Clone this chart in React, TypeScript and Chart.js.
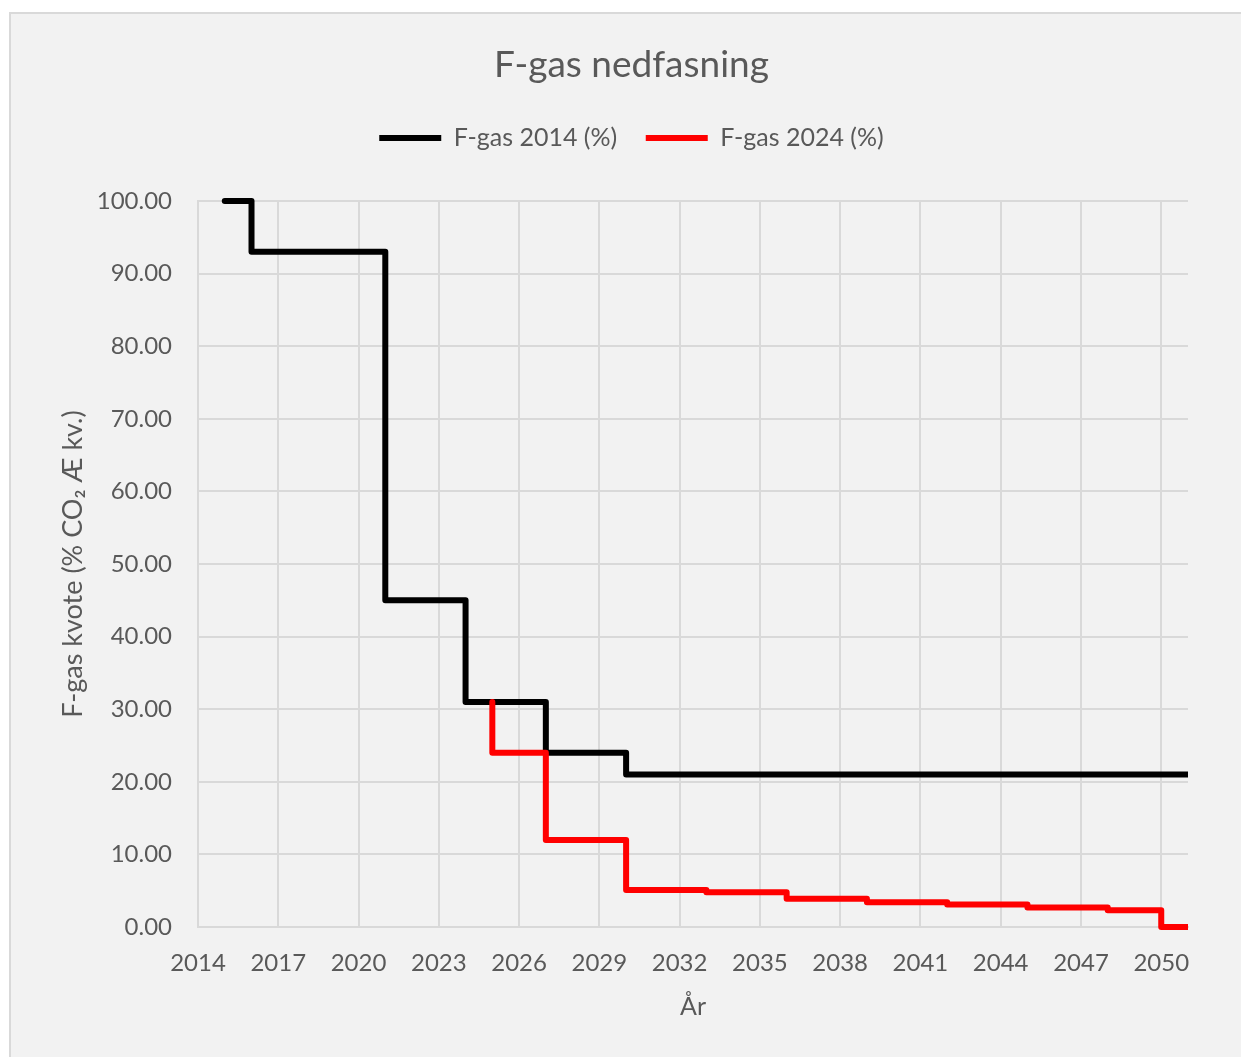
import React, { useEffect, useRef } from "react";
import { Chart, registerables } from "chart.js";

Chart.register(...registerables);

// ---- data ----
const chartTitle = "F-gas nedfasning";
const xAxisTitle = "År";
const yAxisTitle = "F-gas kvote (% CO₂ Æ kv.)";
const seriesLabels = ["F-gas 2014 (%)", "F-gas 2024 (%)"];

const xTickYears = [2014, 2017, 2020, 2023, 2026, 2029, 2032, 2035, 2038, 2041, 2044, 2047, 2050];
const yTickValues = [0, 10, 20, 30, 40, 50, 60, 70, 80, 90, 100];

const years2014 = [2015, 2016, 2021, 2024, 2027, 2030, 2051];
const quota2014 = [100, 93, 45, 31, 24, 21, 21];

const years2024 = [2025, 2025, 2027, 2030, 2033, 2036, 2039, 2042, 2045, 2048, 2050, 2051];
const quota2024 = [31, 24, 12, 5.1, 4.8, 3.9, 3.4, 3.1, 2.7, 2.3, 0, 0];

const FONT = 'Lato, "Open Sans", "Liberation Sans", sans-serif';
const TEXT = "#595959";
const GRID = "#d9d9d9";

const bgPlugin = {
  id: "bgPlugin",
  beforeDraw(chart: any) {
    const { ctx, width, height } = chart;
    ctx.save();
    ctx.fillStyle = "#ffffff";
    ctx.fillRect(0, 0, width, height);
    ctx.fillStyle = "#f2f2f2";
    ctx.fillRect(10, 13, width - 10, height - 13);
    ctx.strokeStyle = "#d9d9d9";
    ctx.lineWidth = 2;
    ctx.beginPath();
    ctx.moveTo(10, height);
    ctx.lineTo(10, 13);
    ctx.lineTo(width, 13);
    ctx.stroke();
    ctx.restore();
  },
};

export default function App() {
  const ref = useRef<HTMLCanvasElement | null>(null);

  useEffect(() => {
    if (!ref.current) return;
    const chart = new Chart(ref.current, {
      type: "line",
      data: {
        datasets: [
          {
            label: seriesLabels[0],
            data: years2014.map((x, i) => ({ x, y: quota2014[i] })),
            borderColor: "#000000",
            backgroundColor: "#000000",
            borderWidth: 6,
            stepped: "before",
            pointRadius: 0,
            borderCapStyle: "round",
            borderJoinStyle: "round",
            fill: false,
            clip: { left: 10, top: 10, right: 0, bottom: 10 },
            order: 1,
          },
          {
            label: seriesLabels[1],
            data: years2024.map((x, i) => ({ x, y: quota2024[i] })),
            borderColor: "#ff0000",
            backgroundColor: "#ff0000",
            borderWidth: 6,
            stepped: "before",
            pointRadius: 0,
            borderCapStyle: "round",
            borderJoinStyle: "round",
            fill: false,
            clip: { left: 10, top: 10, right: 0, bottom: 10 },
            order: 0,
          },
        ],
      },
      options: {
        responsive: false,
        animation: false,
        devicePixelRatio: 1,
        layout: { padding: { left: 22, right: 0, top: 0, bottom: 0 } },
        plugins: {
          tooltip: { enabled: false },
          title: {
            display: true,
            text: chartTitle,
            color: TEXT,
            font: { family: FONT, size: 37, weight: "normal", lineHeight: 1.2 },
            padding: { top: 42.8, bottom: 9.8 },
          },
          subtitle: {
            display: true,
            text: "",
            position: "top",
            weight: 500,
            font: { family: FONT, size: 1, lineHeight: 1 },
            padding: { top: 39.5, bottom: 0 },
          } as any,
          legend: {
            display: true,
            position: "top",
            labels: {
              usePointStyle: true,
              pointStyle: "line",
              pointStyleWidth: 62,
              color: TEXT,
              font: { family: FONT, size: 25 },
              padding: 28.5,
              sort: (a: any, b: any) => a.datasetIndex - b.datasetIndex,
            },
          },
        },
        scales: {
          x: {
            type: "linear",
            position: "bottom",
            min: 2014,
            max: 2051,
            afterBuildTicks: (scale: any) => {
              scale.ticks = xTickYears.map((value) => ({ value }));
            },
            afterFit: (scale: any) => {
              scale.height = 130;
            },
            ticks: {
              color: TEXT,
              font: { family: FONT, size: 24 },
              padding: 22,
              maxRotation: 0,
              autoSkip: false,
              callback: (v: any) => String(v),
            },
            grid: { color: GRID, lineWidth: 2, drawTicks: false },
            border: { display: true, color: GRID, width: 2 },
            title: {
              display: true,
              text: xAxisTitle,
              color: TEXT,
              font: { family: FONT, size: 25, lineHeight: 1.2 },
              padding: { top: 0, bottom: 35 },
            },
          },
          y: {
            type: "linear",
            position: "left",
            min: 0,
            max: 100,
            afterBuildTicks: (scale: any) => {
              scale.ticks = yTickValues.map((value) => ({ value }));
            },
            afterFit: (scale: any) => {
              scale.width = 176;
            },
            ticks: {
              color: TEXT,
              font: { family: FONT, size: 24 },
              padding: 26,
              callback: (v: any) => Number(v).toFixed(2),
            },
            grid: { color: GRID, lineWidth: 2, drawTicks: false },
            border: { display: true, color: GRID, width: 2 },
            title: {
              display: true,
              text: yAxisTitle,
              color: TEXT,
              font: { family: FONT, size: 27, lineHeight: 1.2 },
              padding: { top: 34.8, bottom: 0 },
            },
          },
          yRight: {
            type: "linear",
            position: "right",
            min: 0,
            max: 100,
            display: true,
            afterFit: (scale: any) => {
              scale.width = 53;
            },
            ticks: { display: false },
            grid: { display: false, drawTicks: false },
            border: { display: false },
          },
        },
      },
      plugins: [bgPlugin],
    } as any);
    return () => chart.destroy();
  }, []);

  return (
    <div style={{ position: "absolute", left: 0, top: 0, width: 1241, height: 1057 }}>
      <canvas ref={ref} width={1241} height={1057} style={{ display: "block" }} />
    </div>
  );
}
